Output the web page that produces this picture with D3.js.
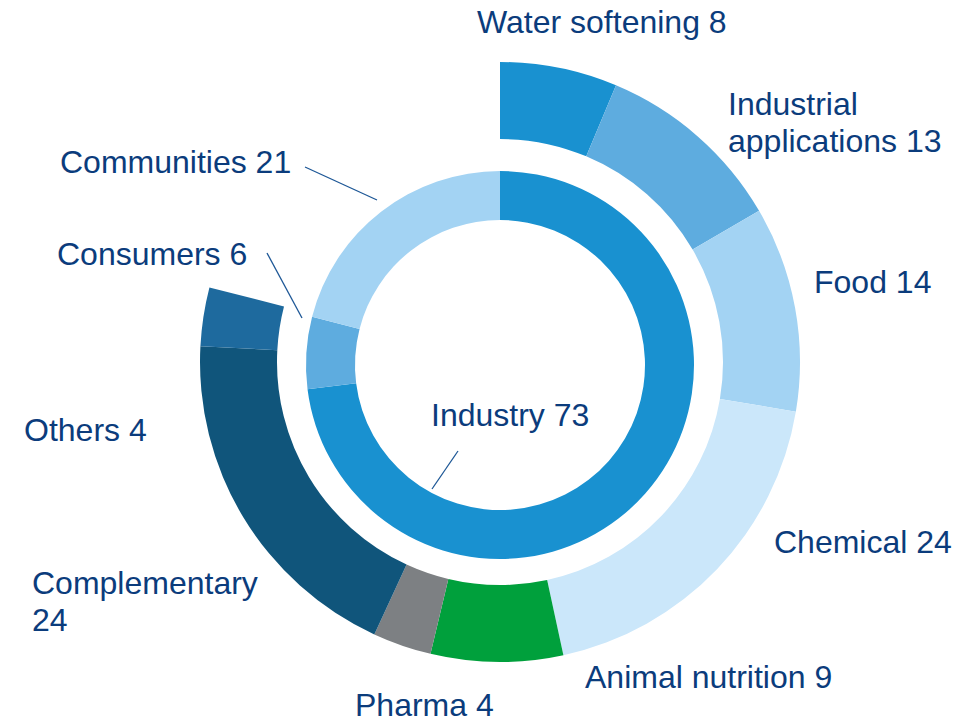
<!DOCTYPE html>
<html>
<head>
<meta charset="utf-8">
<script src="https://cdn.jsdelivr.net/npm/d3@7"></script>
<style>
  body { margin: 0; background: #fff; }
  svg { display: block; }
  text { font-family: 'Liberation Sans', Arial, sans-serif; font-size: 32px; fill: #0b3c7c; }
</style>
</head>
<body>
<svg></svg>
<script>
// inner ring: sales by customer group
let innerCategories = ['Industry', 'Consumers', 'Communities']
let innerValues = [73, 6, 21]
let innerColors = ['#1991d0', '#5eacdf', '#a3d3f3']

// outer ring: breakdown, drawn over the Industry + Consumers share of the circle
let outerCategories = ['Water softening', 'Industrial applications', 'Food', 'Chemical',
                       'Animal nutrition', 'Pharma', 'Complementary', 'Others']
let outerValues = [8, 13, 14, 24, 9, 4, 24, 4]
let outerColors = ['#1991d0', '#5eacdf', '#a3d3f3', '#cbe7fa',
                   '#00a03c', '#7d8083', '#10557b', '#1e6a9e']

let width = 961
let height = 719

let svg = d3.select('svg')
    .attr('width', width)
    .attr('height', height)

let drawInner = () => {
    let pie = d3.pie().sort(null).value(d => d)
    let arc = d3.arc().innerRadius(145).outerRadius(194)

    svg.append('g')
        .attr('transform', 'translate(500, 365)')
        .selectAll('path')
        .data(pie(innerValues))
        .join('path')
        .attr('d', arc)
        .attr('fill', (d, i) => innerColors[i])
}

let drawOuter = () => {
    let share = (innerValues[0] + innerValues[1]) / d3.sum(innerValues)
    let pie = d3.pie().sort(null).value(d => d)
                .startAngle(0)
                .endAngle(2 * Math.PI * share)
    let arc = d3.arc().innerRadius(223).outerRadius(300)

    svg.append('g')
        .attr('transform', 'translate(500, 362)')
        .selectAll('path')
        .data(pie(outerValues))
        .join('path')
        .attr('d', arc)
        .attr('fill', (d, i) => outerColors[i])
}

// label placement: [x, baseline y, how to wrap]
let labelPos = {
    'Water softening': [477, 33, null],
    'Industrial applications': [728, 115, 'word'],
    'Food': [814, 293, null],
    'Chemical': [774, 553, null],
    'Animal nutrition': [585, 688, null],
    'Pharma': [355, 716, null],
    'Complementary': [32, 594, 'value'],
    'Others': [24, 441, null],
    'Consumers': [57, 265, null],
    'Communities': [60, 173, null],
    'Industry': [431, 426, null]
}

let drawLabels = () => {
    let items = []
    innerCategories.forEach((c, i) => items.push([c, innerValues[i]]))
    outerCategories.forEach((c, i) => items.push([c, outerValues[i]]))

    items.forEach(([cat, val]) => {
        let [x, y, brk] = labelPos[cat]
        let lines
        if (brk === 'value') lines = [cat, '' + val]
        else if (brk === 'word') {
            let w = cat.split(' ')
            lines = [w[0], w.slice(1).join(' ') + ' ' + val]
        } else lines = [cat + ' ' + val]

        let t = svg.append('text').attr('x', x).attr('y', y)
        lines.forEach((l, k) => {
            t.append('tspan')
                .attr('x', x)
                .attr('dy', k === 0 ? 0 : 37)
                .text(l)
        })
    })
}

let drawLeaders = () => {
    let leaders = [
        [[305, 167], [377, 200]],
        [[267, 253], [302, 318]],
        [[458, 451], [432, 489]]
    ]
    svg.append('g')
        .selectAll('line')
        .data(leaders)
        .join('line')
        .attr('x1', d => d[0][0])
        .attr('y1', d => d[0][1])
        .attr('x2', d => d[1][0])
        .attr('y2', d => d[1][1])
        .attr('stroke', '#1d5796')
        .attr('stroke-width', 1.3)
}

drawOuter()
drawInner()
drawLeaders()
drawLabels()
</script>
</body>
</html>
